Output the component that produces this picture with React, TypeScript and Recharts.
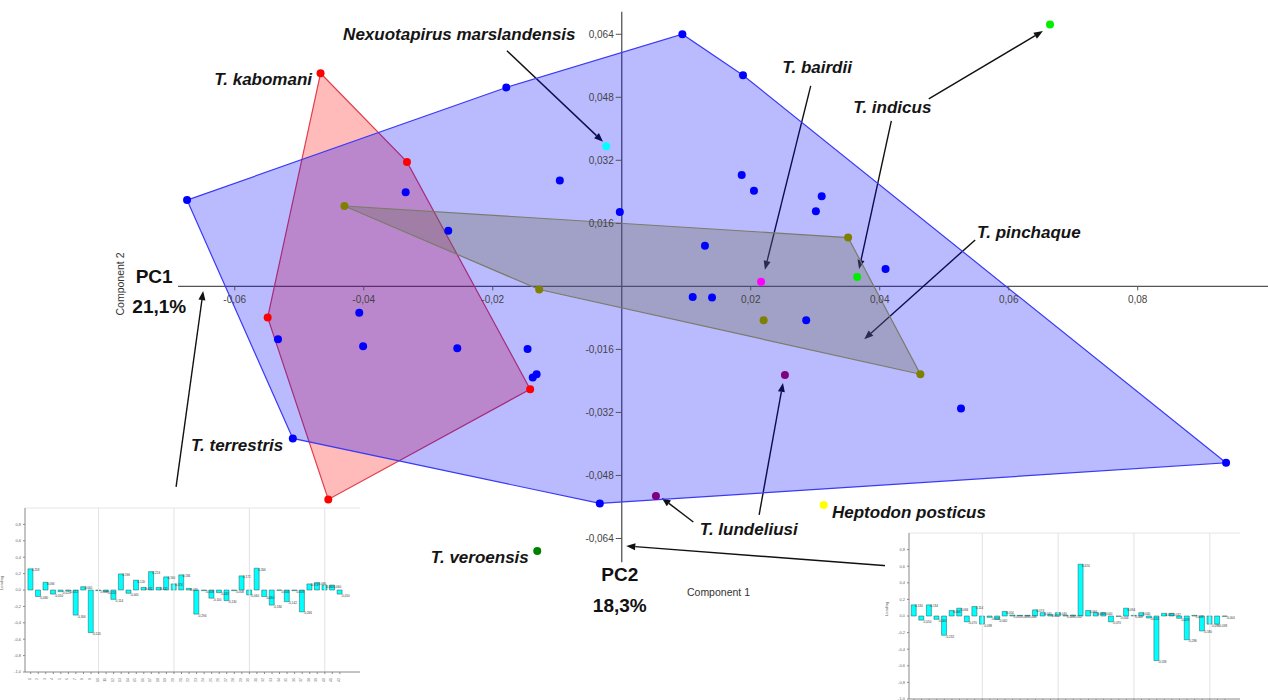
import React from 'react';
import { ScatterChart, Scatter, XAxis, YAxis, ReferenceLine, BarChart, Bar, LabelList } from 'recharts';

const FONT = '"Liberation Sans", Arial, sans-serif';

// PCA window (Component 1 horizontal, Component 2 vertical)
const X_DOMAIN: [number, number] = [-0.0964, 0.1002];
const Y_DOMAIN: [number, number] = [-0.105, 0.0727];

const X_TICKS = [-0.06, -0.04, -0.02, 0.02, 0.04, 0.06, 0.08];
const Y_TICKS = [0.064, 0.048, 0.032, 0.016, -0.016, -0.032, -0.048, -0.064];

// T. terrestris specimens (blue group)
const BLUE_PTS: [number, number][] = [
  [-0.0674, 0.0219], [-0.0179, 0.0505], [-0.0335, 0.0239], [-0.0269, 0.0141],
  [-0.0096, 0.0269], [-0.0003, 0.0189], [0.0094, 0.064], [0.0188, 0.0536],
  [0.0186, 0.0283], [0.0205, 0.0243], [0.031, 0.0229], [0.0301, 0.0191],
  [0.0129, 0.0103], [0.0409, 0.0044], [0.011, -0.0027], [0.014, -0.0028],
  [0.0286, -0.0086], [0.0526, -0.031], [0.0937, -0.0448], [-0.0034, -0.0551],
  [-0.0407, -0.0067], [-0.0533, -0.0134], [-0.0401, -0.0152], [-0.0255, -0.0157],
  [-0.0146, -0.0159], [-0.0132, -0.0223], [-0.0138, -0.0231], [-0.051, -0.0386],
];
const BLUE_HULL = [0, 1, 6, 7, 18, 19, 27, 0];

// T. kabomani (red group)
const RED_PTS: [number, number][] = [
  [-0.0467, 0.0541], [-0.0333, 0.0316], [-0.0549, -0.0079], [-0.0142, -0.0261], [-0.0455, -0.0541],
];
const RED_HULL = [0, 1, 3, 4, 2, 0];

// T. pinchaque (olive group)
const OLIVE_PTS: [number, number][] = [
  [-0.043, 0.0204], [0.0351, 0.0124], [0.0463, -0.0223], [0.022, -0.0086], [-0.0128, -0.0008],
];
const OLIVE_HULL = [0, 1, 2, 4, 0];

const CYAN_PTS: [number, number][] = [[-0.0024, 0.0356]]; // Nexuotapirus marslandensis
const MAGENTA_PTS: [number, number][] = [[0.0216, 0.0012]]; // T. bairdii
const LIME_PTS: [number, number][] = [[0.0365, 0.0024], [0.0664, 0.0665]]; // T. indicus
const PURPLE_PTS: [number, number][] = [[0.0253, -0.0225], [0.0053, -0.0532]]; // T. lundeliusi
const YELLOW_PTS: [number, number][] = [[0.0313, -0.0555]]; // Heptodon posticus
const GREEN_PTS: [number, number][] = [[-0.0131, -0.0672]]; // T. veroensis

const SPECIES_LABELS = [
  { text: 'Nexuotapirus marslandensis', x: -0.0432, y: 0.0626 },
  { text: 'T. kabomani', x: -0.0632, y: 0.0511 },
  { text: 'T. bairdii', x: 0.0249, y: 0.0542 },
  { text: 'T. indicus', x: 0.0359, y: 0.044 },
  { text: 'T. pinchaque', x: 0.0551, y: 0.0123 },
  { text: 'T. terrestris', x: -0.0668, y: -0.0418 },
  { text: 'T. veroensis', x: -0.0296, y: -0.0702 },
  { text: 'T. lundeliusi', x: 0.0121, y: -0.0631 },
  { text: 'Heptodon posticus', x: 0.0326, y: -0.0588 },
];

const PC_LABELS = [
  { text: 'PC1', x: -0.0725, y: 0.0009 },
  { text: '21,1%', x: -0.0717, y: -0.0068 },
  { text: 'PC2', x: -0.0003, y: -0.0747 },
  { text: '18,3%', x: -0.0003, y: -0.0827 },
];

const AXIS_TITLES = [
  { text: 'Component 1', x: 0.015, y: -0.0785, rot: 0 },
  { text: 'Component 2', x: -0.0771, y: 0.0006, rot: -90 },
];

// arrows: [fromX, fromY, toX, toY]
const ARROWS: [number, number, number, number][] = [
  [-0.0178, 0.0598, -0.0029, 0.0367],
  [0.0293, 0.0509, 0.0222, 0.0042],
  [0.0418, 0.042, 0.0368, 0.0044],
  [0.0476, 0.0476, 0.0653, 0.0648],
  [0.0548, 0.0118, 0.0376, -0.0134],
  [-0.0691, -0.0509, -0.0649, -0.0012],
  [0.0213, -0.058, 0.025, -0.0245],
  [0.0111, -0.0598, 0.0062, -0.0537],
  [0.0416, -0.071, 0.0007, -0.0659],
];

// loadings shown in the two small bar charts
const PC1_LOADINGS = [
  0.258, -0.08, 0.094, -0.05, -0.02, -0.012, -0.306, 0.04, -0.52, -0.008,
  -0.02, -0.114, 0.196, -0.04, 0.12, 0.032, 0.224, 0.032, 0.16, 0.074,
  0.184, 0.02, -0.294, -0.008, -0.1, -0.032, -0.13, -0.008, 0.172, -0.06,
  0.266, -0.08, -0.184, -0.004, -0.142, -0.008, -0.266, 0.074, 0.09, 0.06,
  0.06, -0.05,
];
const PC2_LOADINGS = [
  0.134, -0.05, 0.134, -0.04, -0.232, 0.066, 0.094, -0.07, 0.114, -0.098,
  -0.016, -0.04, 0.054, 0.012, 0.008, 0.008, 0.074, 0.04, 0.016, 0.04,
  0.008, 0.012, 0.624, 0.066, 0.04, 0.04, -0.07, -0.004, 0.094, 0.008,
  0.04, -0.024, -0.538, 0.032, 0.032, -0.028, -0.286, 0.008, -0.18, -0.098,
  -0.098, -0.004,
];
const INSET_TICKS = [-1, -0.8, -0.6, -0.4, -0.2, 0, 0.2, 0.4, 0.6, 0.8];
const INSET_GRID = [10, 20, 30, 40];

const toData = (pts: [number, number][]) => pts.map(([x, y]) => ({ x, y }));
const hullData = (pts: [number, number][], idx: number[]) => idx.map((i) => ({ x: pts[i][0], y: pts[i][1] }));
const comma = (v: number, d: number) => v.toFixed(d).replace('.', ',');

const Empty = () => <g />;
const dot = (color: string) => (p: any) => <circle cx={p.cx} cy={p.cy} r={4} fill={color} />;

const XTick = (p: any) => {
  const v = p.payload?.v ?? p.v;
  return (
    <g>
      <line x1={p.cx} y1={p.cy} x2={p.cx} y2={p.cy + 4} stroke="#555" />
      <text x={p.cx} y={p.cy + 17} textAnchor="middle" fontSize={10} fill="#444" fontFamily={FONT}>
        {comma(v, 2)}
      </text>
    </g>
  );
};

const YTick = (p: any) => {
  const v = p.payload?.v ?? p.v;
  return (
    <g>
      <line x1={p.cx - 6} y1={p.cy} x2={p.cx} y2={p.cy} stroke="#555" />
      <text x={p.cx - 8} y={p.cy + 3.5} textAnchor="end" fontSize={10} fill="#444" fontFamily={FONT}>
        {comma(v, 3)}
      </text>
    </g>
  );
};

const SpeciesText = (p: any) => (
  <text x={p.cx} y={p.cy} fontSize={17} fontWeight="bold" fontStyle="italic" fill="#151515" fontFamily={FONT}>
    {p.payload?.text ?? p.text}
  </text>
);

const PcText = (p: any) => (
  <text x={p.cx} y={p.cy} textAnchor="middle" fontSize={19} fontWeight="bold" fill="#111" fontFamily={FONT}>
    {p.payload?.text ?? p.text}
  </text>
);

const TitleText = (p: any) => {
  const rot = p.payload?.rot ?? p.rot;
  return (
    <text x={p.cx} y={p.cy} textAnchor="middle" fontSize={10.5} fill="#333" fontFamily={FONT}
      transform={rot ? `rotate(${rot} ${p.cx} ${p.cy})` : undefined}>
      {p.payload?.text ?? p.text}
    </text>
  );
};

const Arrow = (p: any) => {
  const { x1, y1, x2, y2 } = p;
  const a = Math.atan2(y2 - y1, x2 - x1);
  const c = Math.cos(a);
  const s = Math.sin(a);
  const bx = x2 - 9 * c;
  const by = y2 - 9 * s;
  const pts = `${x2},${y2} ${bx - 3.5 * s},${by + 3.5 * c} ${bx + 3.5 * s},${by - 3.5 * c}`;
  return (
    <g>
      <line x1={x1} y1={y1} x2={bx} y2={by} stroke="#111" strokeWidth={1.4} />
      <polygon points={pts} fill="#111" />
    </g>
  );
};

const BarValueLabel = (p: any) => {
  const v = Number(p.value);
  const top = Math.min(p.y, p.y + p.height);
  const bottom = Math.max(p.y, p.y + p.height);
  return (
    <text x={p.x + p.width - 1} y={v >= 0 ? top + 2.5 : bottom + 2.5} fontSize={3} fill="#333" fontFamily={FONT}>
      {comma(v, 3)}
    </text>
  );
};

const InsetXTick = (p: any) => (
  <text x={p.x} y={p.y + 2} transform={`rotate(-90 ${p.x} ${p.y + 2})`} textAnchor="end" fontSize={3.5} fill="#666" fontFamily={FONT}>
    {p.payload.value}
  </text>
);

interface InsetProps {
  values: number[];
  width: number;
  height: number;
  domain: [number, number];
  yAxisWidth: number;
  margin: { top: number; right: number; bottom: number; left: number };
  xLabels: boolean;
}

function LoadingInset({ values, width, height, domain, yAxisWidth, margin, xLabels }: InsetProps) {
  const data = values.map((v, i) => ({ i: i + 1, v }));
  return (
    <BarChart width={width} height={height} data={data} margin={margin}>
      <XAxis type="number" dataKey="i" domain={domain} allowDataOverflow ticks={data.map((d) => d.i)} interval={0}
        height={10} tick={xLabels ? <InsetXTick /> : Empty} tickSize={2} axisLine={{ stroke: '#888' }} tickLine={{ stroke: '#888' }} />
      <YAxis type="number" domain={[-1, 1]} allowDataOverflow ticks={INSET_TICKS} interval={0} width={yAxisWidth}
        tick={{ fontSize: 4, fill: '#666', fontFamily: FONT }} tickFormatter={(v: number) => comma(v, 1)} tickSize={2}
        axisLine={{ stroke: '#888' }} tickLine={{ stroke: '#888' }}
        label={{ value: 'Loading', angle: -90, position: 'insideLeft', fontSize: 4, fill: '#666', offset: 2 }} />
      {INSET_GRID.map((g) => (
        <ReferenceLine key={g} x={g} stroke="#e2e2e2" />
      ))}
      <ReferenceLine y={1} stroke="#e6e6e6" />
      <Bar dataKey="v" fill="#00ffff" stroke="#2f5555" strokeWidth={0.5} barSize={5} isAnimationActive={false}>
        <LabelList dataKey="v" content={BarValueLabel} />
      </Bar>
    </BarChart>
  );
}

export default function App() {
  return (
    <div style={{ position: 'absolute', left: 0, top: 0, width: 1268, height: 700, overflow: 'hidden', background: '#fff', fontFamily: FONT }}>
      <ScatterChart width={1268} height={700} margin={{ top: 0, right: 0, bottom: 0, left: 0 }}>
        <XAxis type="number" dataKey="x" domain={X_DOMAIN} allowDataOverflow hide />
        <YAxis type="number" dataKey="y" domain={Y_DOMAIN} allowDataOverflow hide />

        {/* convex hulls */}
        <Scatter data={hullData(RED_PTS, RED_HULL)} shape={Empty} isAnimationActive={false}
          line={{ fill: '#ff0000', fillOpacity: 0.27, stroke: '#e33d4a', strokeWidth: 1.2 }} />
        <Scatter data={hullData(BLUE_PTS, BLUE_HULL)} shape={Empty} isAnimationActive={false}
          line={{ fill: '#0000ff', fillOpacity: 0.27, stroke: '#3a3af5', strokeWidth: 1.2 }} />
        <Scatter data={hullData(OLIVE_PTS, OLIVE_HULL)} shape={Empty} isAnimationActive={false}
          line={{ fill: '#6e6e55', fillOpacity: 0.32, stroke: '#7b7b6a', strokeWidth: 1.2 }} />

        {/* axes crossing at the origin */}
        <ReferenceLine segment={[{ x: -0.0688, y: 0 }, { x: 0.1002, y: 0 }]} stroke="#555" strokeWidth={1.3} />
        <ReferenceLine segment={[{ x: 0, y: 0.0697 }, { x: 0, y: -0.07 }]} stroke="#555" strokeWidth={1.3} />
        <Scatter data={X_TICKS.map((v) => ({ x: v, y: 0, v }))} shape={XTick} isAnimationActive={false} />
        <Scatter data={Y_TICKS.map((v) => ({ x: 0, y: v, v }))} shape={YTick} isAnimationActive={false} />

        {/* specimens */}
        <Scatter data={toData(BLUE_PTS)} shape={dot('#0000ff')} isAnimationActive={false} />
        <Scatter data={toData(RED_PTS)} shape={dot('#ff0000')} isAnimationActive={false} />
        <Scatter data={toData(OLIVE_PTS)} shape={dot('#808000')} isAnimationActive={false} />
        <Scatter data={toData(CYAN_PTS)} shape={dot('#00ffff')} isAnimationActive={false} />
        <Scatter data={toData(MAGENTA_PTS)} shape={dot('#ff00ff')} isAnimationActive={false} />
        <Scatter data={toData(LIME_PTS)} shape={dot('#00ee00')} isAnimationActive={false} />
        <Scatter data={toData(PURPLE_PTS)} shape={dot('#800080')} isAnimationActive={false} />
        <Scatter data={toData(YELLOW_PTS)} shape={dot('#ffff00')} isAnimationActive={false} />
        <Scatter data={toData(GREEN_PTS)} shape={dot('#008000')} isAnimationActive={false} />

        {/* annotations */}
        {ARROWS.map(([x1, y1, x2, y2], i) => (
          <ReferenceLine key={`arrow-${i}`} segment={[{ x: x1, y: y1 }, { x: x2, y: y2 }]} shape={Arrow} />
        ))}
        <Scatter data={SPECIES_LABELS} shape={SpeciesText} isAnimationActive={false} />
        <Scatter data={PC_LABELS} shape={PcText} isAnimationActive={false} />
        <Scatter data={AXIS_TITLES} shape={TitleText} isAnimationActive={false} />
      </ScatterChart>

      {/* PC1 loadings */}
      <div style={{ position: 'absolute', left: 0, top: 505, width: 362, height: 195, background: '#fff' }}>
        <LoadingInset values={PC1_LOADINGS} width={362} height={195} domain={[0.244, 44.67]} yAxisWidth={25}
          margin={{ top: 3, right: 2, bottom: 18, left: 0 }} xLabels />
      </div>

      {/* PC2 loadings */}
      <div style={{ position: 'absolute', left: 885, top: 530, width: 358, height: 185, background: '#fff' }}>
        <LoadingInset values={PC2_LOADINGS} width={358} height={185} domain={[0.34, 43.98]} yAxisWidth={24}
          margin={{ top: 3, right: 3, bottom: 6, left: 0 }} xLabels={false} />
      </div>
    </div>
  );
}
